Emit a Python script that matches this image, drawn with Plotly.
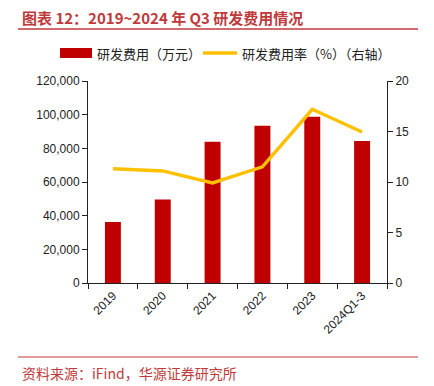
import plotly.graph_objects as go

categories = ["2019", "2020", "2021", "2022", "2023", "2024Q1-3"]
rd_expense = [36200, 49600, 83900, 93400, 98800, 84300]
rd_ratio = [11.3, 11.1, 9.9, 11.5, 17.2, 14.95]

OFF = 8  # browser default body margin
W, H = 434 - OFF, 386 - OFF
L, R, T, B = 88 - OFF, 47, 81 - OFF, 103
PW, PH = W - L - R, H - T - B

def px(x):
    return (x - OFF - L) / PW

def py(y):
    return (H - B - (y - OFF)) / PH

RED = "#C00000"
YEL = "#FFC000"
TITLE_RED = "#C0393B"
CJK = "Noto Sans CJK SC"

fig = go.Figure()
fig.add_trace(go.Bar(x=categories, y=rd_expense, name="研发费用（万元）",
                     marker=dict(color=RED, line=dict(width=0)), width=0.32,
                     showlegend=False))
fig.add_trace(go.Scatter(x=categories, y=rd_ratio, name="研发费用率（%）（右轴）",
                         mode="lines", line=dict(color=YEL, width=3.5),
                         yaxis="y2", showlegend=False))

axis_font = dict(family="Liberation Sans, Arial", size=12, color="#222")
fig.update_layout(
    width=W, height=H,
    margin=dict(l=L, r=R, t=T, b=B),
    paper_bgcolor="white", plot_bgcolor="white",
    xaxis=dict(type="category", showline=True, linecolor="#222", linewidth=1,
               ticks="outside", tickson="boundaries", ticklen=5, tickcolor="#222",
               tickangle=-45, tickfont=dict(family="Liberation Sans, Arial", size=12, color="#222"),
               showgrid=False),
    yaxis=dict(range=[0, 120000], dtick=20000, tickformat=",", showline=True,
               linecolor="#222", ticks="outside", ticklen=5, tickcolor="#222",
               showgrid=False, zeroline=False, tickfont=axis_font),
    yaxis2=dict(range=[0, 20], dtick=5, overlaying="y", side="right", showline=True,
                linecolor="#222", ticks="outside", ticklen=5, tickcolor="#222",
                showgrid=False, zeroline=False, tickfont=axis_font),
    showlegend=False,
    bargap=0.5,
)

shapes = [
    dict(type="line", xref="paper", yref="paper", x0=px(18), x1=px(418), y0=py(29), y1=py(29),
         line=dict(color=TITLE_RED, width=1.5)),
    dict(type="line", xref="paper", yref="paper", x0=px(18), x1=px(418), y0=py(357), y1=py(357),
         line=dict(color=TITLE_RED, width=1.2)),
    dict(type="rect", xref="paper", yref="paper", x0=px(60), x1=px(92), y0=py(48), y1=py(58),
         fillcolor=RED, line=dict(width=0)),
    dict(type="line", xref="paper", yref="paper", x0=px(203), x1=px(237), y0=py(53), y1=py(53),
         line=dict(color=YEL, width=3.5)),
]
annotations = [
    dict(text="<b>图表 12：2019~2024 年 Q3 研发费用情况</b>", xref="paper", yref="paper",
         x=px(20), y=py(18), xanchor="left", yanchor="middle", showarrow=False,
         font=dict(family=CJK, size=15, color=TITLE_RED)),
    dict(text="研发费用（万元）", xref="paper", yref="paper", x=px(95), y=py(53),
         xanchor="left", yanchor="middle", showarrow=False,
         font=dict(family=CJK, size=13, color="#222")),
    dict(text="研发费用率（%）（右轴）", xref="paper", yref="paper", x=px(240), y=py(53),
         xanchor="left", yanchor="middle", showarrow=False,
         font=dict(family=CJK, size=13, color="#222")),
    dict(text="资料来源：iFind，华源证券研究所", xref="paper", yref="paper", x=px(20), y=py(373),
         xanchor="left", yanchor="middle", showarrow=False,
         font=dict(family=CJK, size=14, color=TITLE_RED)),
]
fig.update_layout(shapes=shapes, annotations=annotations)

fig.write_html("out.html")
